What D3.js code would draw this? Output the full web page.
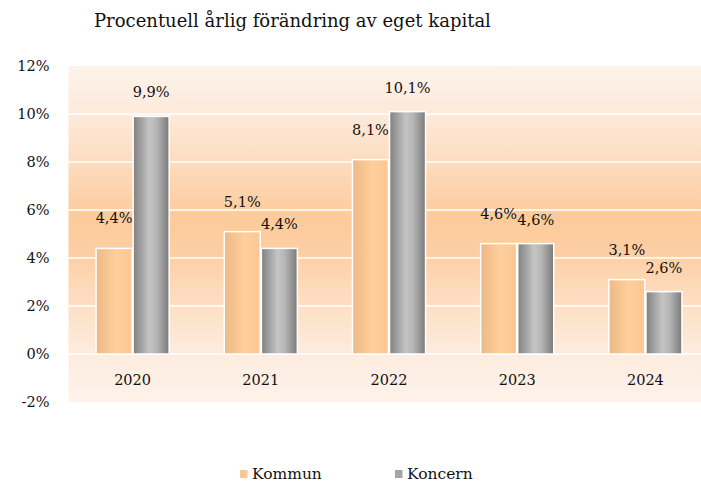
<!DOCTYPE html>
<html>
<head>
<meta charset="utf-8">
<script src="https://cdn.jsdelivr.net/npm/d3@7"></script>
<style>
  html, body { margin: 0; padding: 0; background: #fff; }
  svg { display: block; }
  svg text { font-family: "DejaVu Serif", "Liberation Serif", "Times New Roman", Tinos, Times, "Noto Serif", serif !important; fill: #111; }
</style>
</head>
<body>
<svg id="chart" width="701" height="483"></svg>
<script>
const years = ['2020', '2021', '2022', '2023', '2024'];
const seriesNames = ['Kommun', 'Koncern'];
const kommun = [4.4, 5.1, 8.1, 4.6, 3.1];
const koncern = [9.9, 4.4, 10.1, 4.6, 2.6];
const yTicks = [-2, 0, 2, 4, 6, 8, 10, 12];

const plot = { left: 68.5, right: 709.5, top: 66, bottom: 402 };

const svg = d3.select('#chart');
const defs = svg.append('defs');

// background gradient of the plot area
const bg = defs.append('linearGradient')
  .attr('id', 'bgGrad').attr('x1', 0).attr('y1', 0).attr('x2', 0).attr('y2', 1);
[[0, '#fef3ea'], [0.14, '#fdeadb'], [0.29, '#fddcbf'], [0.45, '#fccb9b'],
 [0.55, '#fccea2'], [0.71, '#fddfc4'], [0.857, '#fdecdf'], [1, '#fef2ea']]
  .forEach(([o, c]) => bg.append('stop').attr('offset', o).attr('stop-color', c));

const kGrad = defs.append('linearGradient').attr('id', 'kommunGrad');
[[0, '#ecb987'], [0.55, '#ffcf9b'], [1, '#fbc794']]
  .forEach(([o, c]) => kGrad.append('stop').attr('offset', o).attr('stop-color', c));

const gGrad = defs.append('linearGradient').attr('id', 'koncernGrad');
[[0, '#808080'], [0.45, '#c4c4c4'], [0.65, '#b6b6b6'], [1, '#7a7a7a']]
  .forEach(([o, c]) => gGrad.append('stop').attr('offset', o).attr('stop-color', c));

const y = d3.scaleLinear().domain([-2, 12]).range([plot.bottom, plot.top]);
const x = d3.scaleBand().domain(years).range([plot.left, plot.right])
  .paddingInner(0.43).paddingOuter(0.215);
const xs = d3.scaleBand().domain(seriesNames).range([0, x.bandwidth()]).paddingInner(0.03);

const fmt = (v) => d3.format('.1f')(v).replace('.', ',') + '%';

// title
svg.append('text')
  .attr('x', 94).attr('y', 27)
  .attr('font-size', 18)
  .text('Procentuell årlig förändring av eget kapital');

// plot background
svg.append('rect')
  .attr('x', plot.left).attr('y', plot.top)
  .attr('width', plot.right - plot.left).attr('height', plot.bottom - plot.top)
  .attr('fill', 'url(#bgGrad)');

// gridlines
svg.append('g')
  .selectAll('line')
  .data(yTicks.filter((t) => t > -2 && t < 12))
  .join('line')
  .attr('x1', plot.left).attr('x2', plot.right)
  .attr('y1', (d) => y(d)).attr('y2', (d) => y(d))
  .attr('stroke', '#fff').attr('stroke-width', 1.5);

// y axis
const yAxis = svg.append('g')
  .attr('transform', `translate(${plot.left - 16},0)`)
  .call(d3.axisLeft(y).tickValues(yTicks).tickSize(0).tickFormat((d) => d + '%'));
yAxis.attr('font-family', null).attr('font-size', null);
yAxis.select('.domain').remove();
yAxis.selectAll('text')
  .attr('font-size', 14.5)
  .attr('fill', '#111')
  .attr('dx', 0);

// bars
const rows = years.map((yr, i) => ({ year: yr, values: [kommun[i], koncern[i]] }));
const groups = svg.append('g')
  .selectAll('g')
  .data(rows)
  .join('g')
  .attr('transform', (d) => `translate(${x(d.year)},0)`);

groups.selectAll('rect')
  .data((d) => d.values.map((v, j) => ({ name: seriesNames[j], value: v })))
  .join('rect')
  .attr('x', (d) => xs(d.name))
  .attr('y', (d) => y(d.value))
  .attr('width', xs.bandwidth())
  .attr('height', (d) => y(0) - y(d.value))
  .attr('fill', (d) => (d.name === 'Kommun' ? 'url(#kommunGrad)' : 'url(#koncernGrad)'))
  .attr('stroke', '#fff')
  .attr('stroke-width', 1.5);

groups.selectAll('text')
  .data((d) => d.values.map((v, j) => ({ name: seriesNames[j], value: v })))
  .join('text')
  .attr('x', (d) => xs(d.name) + xs.bandwidth() / 2)
  .attr('y', (d) => y(d.value) - (d.name === 'Kommun' ? 25 : 19))
  .attr('text-anchor', 'middle')
  .attr('font-size', 14.5)
  .text((d) => fmt(d.value));

// x labels
svg.append('g')
  .selectAll('text')
  .data(years)
  .join('text')
  .attr('x', (d) => x(d) + x.bandwidth() / 2)
  .attr('y', 385)
  .attr('text-anchor', 'middle')
  .attr('font-size', 14.5)
  .text((d) => d);

// legend at the bottom edge
const legendX = [240, 395];
const legend = svg.append('g')
  .selectAll('g')
  .data(seriesNames)
  .join('g')
  .attr('transform', (d, i) => `translate(${legendX[i]},470)`);
legend.append('rect')
  .attr('width', 7.5).attr('height', 8)
  .attr('fill', (d) => (d === 'Kommun' ? '#fbc895' : '#a6a6a6'));
legend.append('text')
  .attr('x', 12)
  .attr('y', 9)
  .attr('font-size', 15.5)
  .text((d) => d);
</script>
</body>
</html>
